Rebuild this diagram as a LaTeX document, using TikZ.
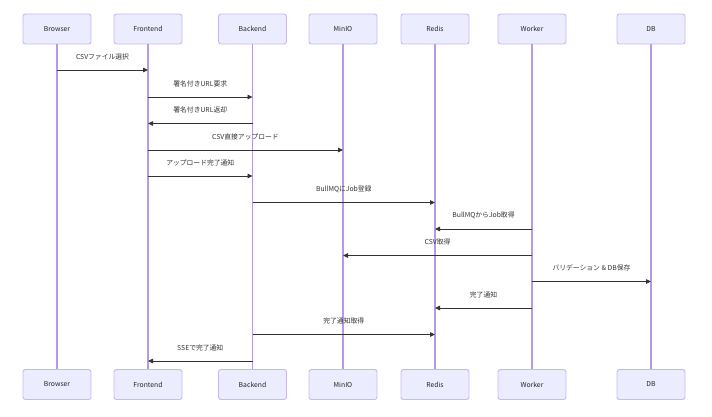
\documentclass[tikz,border=0pt]{standalone}
\usepackage{fontspec}
\setmainfont{Noto Sans CJK JP}
\usetikzlibrary{arrows.meta,calc}
\definecolor{actfill}{HTML}{ECECFF}
\definecolor{actdraw}{HTML}{C8B8F2}
\definecolor{lifeln}{HTML}{B49BE6}
\definecolor{msgcol}{HTML}{333333}
\begin{document}
\begin{tikzpicture}[x=1pt,y=-1pt,
  actor/.style={draw=actdraw,fill=actfill,line width=0.9pt,rounded corners=2.5pt,
    minimum width=68pt,minimum height=30pt,inner sep=0pt,
    font=\fontsize{6.8}{8}\selectfont,text=black!85},
  life/.style={draw=lifeln,line width=1.2pt},
  msg/.style={draw=msgcol,line width=0.8pt,-{Triangle[length=5pt,width=4.5pt]}},
  lbl/.style={font=\fontsize{6.8}{8}\selectfont,text=msgcol,inner sep=0pt}]
\useasboundingbox (0,0) rectangle (712,417);
\foreach \n/\t/\x in {B/Browser/57,F/Frontend/148,K/Backend/252.5,M/MinIO/343,R/Redis/435,W/Worker/532,D/DB/651}{
  \node[actor] (t\n) at (\x,29) {\t};
  \node[actor] (b\n) at (\x,384.5) {\t};
  \draw[life] (t\n.south) -- (b\n.north);
}
\foreach \a/\b/\y/\t in {
  B/F/70/{CSVファイル選択},
  F/K/97/{署名付きURL要求},
  K/F/123.5/{署名付きURL返却},
  F/M/150/{CSV直接アップロード},
  F/K/176/{アップロード完了通知},
  K/R/202.5/{BullMQにJob登録},
  W/R/229/{BullMQからJob取得},
  W/M/255.5/{CSV取得},
  W/D/281.5/{バリデーション \& DB保存},
  W/R/308/{完了通知},
  K/R/334.5/{完了通知取得},
  K/F/361/{SSEで完了通知}}{
  \coordinate (s) at (t\a.center |- 0,\y);
  \coordinate (e) at (t\b.center |- 0,\y);
  \draw[msg] (s) -- (e);
  \node[lbl] at ($(s)!0.5!(e)+(0,-13.5)$) {\t};
}
\end{tikzpicture}
\end{document}
